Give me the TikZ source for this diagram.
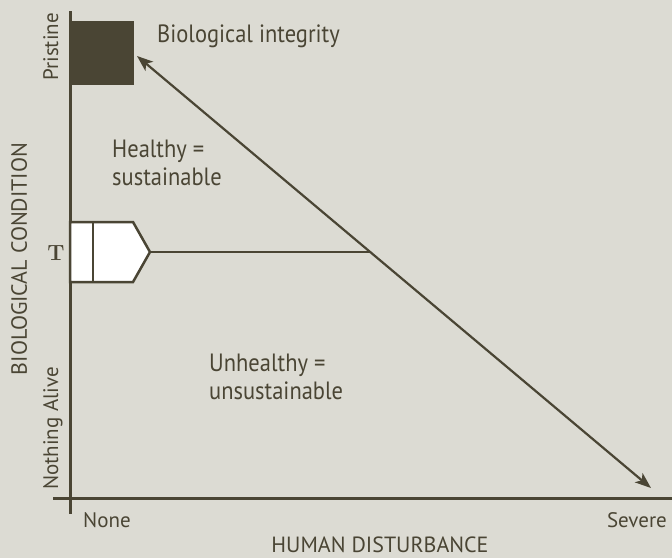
\documentclass[tikz,border=0pt]{standalone}
\usepackage{fontspec}
\setmainfont{PT Sans}
\newfontfamily\labelfont[FakeStretch=0.9]{PT Sans}
\usepackage{tikz}
\usetikzlibrary{arrows.meta}
\definecolor{bgbeige}{RGB}{220,219,211}
\definecolor{inkbrown}{RGB}{74,69,52}
\tikzset{
  lbl/.style={text=inkbrown, font=\labelfont\fontsize{25}{28}\selectfont, inner sep=0pt},
  axlbl/.style={text=inkbrown, font=\fontsize{21}{24}\selectfont, inner sep=0pt},
  axtitle/.style={text=inkbrown, font=\fontsize{22}{24}\selectfont, inner sep=0pt}
}

\begin{document}
\begin{tikzpicture}[x=1pt, y=-1pt]
\fill[bgbeige] (0,0) rectangle (672,558);
\useasboundingbox (0,0) rectangle (672,558);
% axes
\coordinate (ytop) at (70,11);
\coordinate (ybot) at (70,514);
\coordinate (xleft) at (53,498);
\coordinate (xright) at (672,498);
\draw[line width=3pt, inkbrown] (ytop) -- (ybot);
\draw[line width=3pt, inkbrown] (xleft) -- (xright);
% pristine block
\fill[inkbrown] (70,21) rectangle (134,85);
% threshold marker
\draw[line width=2.5pt, inkbrown, fill=white] (70,222) -- (133,222) -- (150,252) -- (133,282) -- (70,282) -- cycle;
\draw[line width=2.5pt, inkbrown] (93,222) -- (93,282);
\coordinate (tip) at (150,252);
\coordinate (cross) at (370,252);
\draw[line width=2.5pt, inkbrown] (tip) -- (cross);
% disturbance gradient
\coordinate (good) at (137,56);
\coordinate (bad) at (651,488);
\draw[line width=2.2pt, inkbrown, {Stealth[length=16pt,width=12pt,inset=4pt]}-{Stealth[length=16pt,width=12pt,inset=4pt]}] (good) -- (bad);
% labels
\node[lbl, anchor=base west] (integ) at (157,42) {Biological integrity};
\node[lbl, anchor=base west] (healthy) at (112,157) {Healthy =};
\node[lbl, anchor=base west] (sustain) at (112,185) {sustainable};
\node[lbl, anchor=base west] (unhealthy) at (209,371) {Unhealthy =};
\node[lbl, anchor=base west] (unsustain) at (209,399) {unsustainable};
\node[text=inkbrown, font=\fontspec{Latin Modern Roman}\bfseries\fontsize{22}{24}\selectfont, inner sep=0pt, anchor=base] (tlbl) at (56,260) {T};
\node[axlbl, anchor=base west] (none) at (83,527) {None};
\node[axlbl, anchor=base east] (severe) at (667,527) {Severe};
\node[axtitle, anchor=base] (xtitle) at (380,552) {HUMAN DISTURBANCE};
\node[axtitle, rotate=90, anchor=base] (ytitle) at (27,259) {BIOLOGICAL CONDITION};
\node[axlbl, rotate=90, anchor=base east] (pristine) at (58,13) {Pristine};
\node[axlbl, rotate=90, anchor=base west] (nothing) at (58,490) {Nothing Alive};
\end{tikzpicture}
\end{document}
